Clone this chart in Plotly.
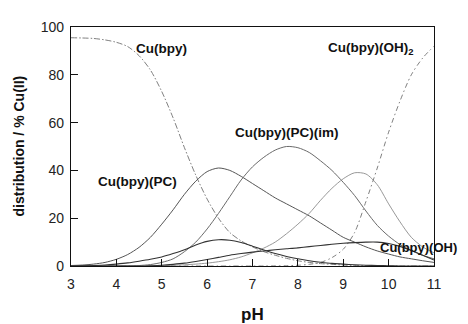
import plotly.graph_objects as go

pH = [3.0, 3.25, 3.5, 3.75, 4.0, 4.25, 4.5, 4.75, 5.0, 5.25, 5.5, 5.75, 6.0, 6.25, 6.5, 6.75,
      7.0, 7.25, 7.5, 7.75, 8.0, 8.25, 8.5, 8.75, 9.0, 9.25, 9.5, 9.75, 10.0, 10.25, 10.5, 10.75, 11.0]

cu_bpy = [95.5, 95.4, 95.2, 94.6, 93.6, 91.8, 88, 82, 73, 62, 49.5, 38, 28, 20, 14, 10.5,
          8, 6, 4.5, 3.2, 2.2, 1.5, 1, 0.7, 0.4, 0.2, 0.1, 0.05, 0, 0, 0, 0, 0]
cu_bpy_pc = [0.2, 0.4, 0.8, 1.5, 2.8, 4.8, 7.8, 12, 17.5, 23.5, 30, 35.5, 39.5, 41, 40, 37.5,
             34.5, 31.5, 28.5, 26, 23.5, 21, 18, 15, 12, 10, 8, 6.3, 5, 3.8, 3, 2.2, 1.5]
cu_bpy_pc_im = [0, 0, 0, 0, 0, 0, 0.2, 0.6, 1.5, 3, 6, 10, 15.5, 22, 29, 36,
                41.5, 45.5, 48.5, 50, 49.5, 47.5, 44, 40, 35, 29.5, 23, 17, 12.5, 9, 6.5, 4.5, 3]
cu_bpy_oh = [0, 0, 0, 0, 0, 0, 0, 0, 0.1, 0.3, 0.5, 0.8, 1.2, 1.8, 2.6, 3.8,
             5.5, 7.5, 10, 13.5, 17.5, 22, 27.5, 32.5, 36.5, 39, 38.5, 34, 26, 18.5, 12, 8, 5.5]
cu_bpy_oh2 = [0, 0, 0, 0, 0, 0, 0, 0, 0, 0, 0, 0, 0, 0, 0, 0,
              0, 0, 0.05, 0.1, 0.3, 0.7, 1.5, 3.5, 7, 14, 27, 41, 56, 69, 80, 87, 92]
minor_a = [0, 0.05, 0.2, 0.4, 0.8, 1.3, 2, 2.8, 3.8, 5.2, 6.8, 8.8, 10.3, 11, 10.8, 9.8,
           8.3, 6.7, 5.2, 4, 3, 2.2, 1.6, 1.1, 0.8, 0.5, 0.3, 0.2, 0.1, 0, 0, 0, 0]
minor_b = [0, 0, 0, 0, 0, 0, 0, 0.1, 0.3, 0.7, 1.2, 1.9, 2.7, 3.6, 4.5, 5.2,
           5.8, 6.3, 6.8, 7.2, 7.6, 8.1, 8.6, 9.1, 9.5, 9.8, 10, 10, 9.4, 8.2, 6.5, 4.5, 2.5]

x_ticks = [3, 4, 5, 6, 7, 8, 9, 10, 11]
y_ticks = [0, 20, 40, 60, 80, 100]

series = [
    (cu_bpy, "#808080", "6px,2px,1.5px,2px", 1.0),
    (cu_bpy_pc, "#555555", "solid", 1.0),
    (cu_bpy_pc_im, "#6a6a6a", "solid", 1.0),
    (cu_bpy_oh, "#8c8c8c", "solid", 0.9),
    (cu_bpy_oh2, "#808080", "5px,3px,1.5px,3px", 1.0),
    (minor_a, "#333333", "solid", 1.1),
    (minor_b, "#333333", "solid", 1.1),
]

FONT = "Liberation Sans, Arial, sans-serif"

fig = go.Figure()
for vals, col, dash, w in series:
    fig.add_trace(go.Scatter(x=pH, y=vals, mode="lines",
                             line=dict(color=col, width=w, dash=dash, shape="spline", smoothing=0.8),
                             showlegend=False, hoverinfo="skip"))

lab_font = dict(family=FONT, size=13.5, color="#111111")
labels = [
    (5.0, 90.9, "<b>Cu(bpy)</b>", 13.5),
    (9.61, 90.9, "<b>Cu(bpy)(OH)<sub>2</sub></b>", 13.5),
    (7.74, 56.0, "<b>Cu(bpy)(PC)(im)</b>", 13.5),
    (4.46, 35.3, "<b>Cu(bpy)(PC)</b>", 13.5),
    (10.66, 7.7, "<b>Cu(bpy)(OH)</b>", 13),
]
for x, y, t, s in labels:
    fig.add_annotation(x=x, y=y, text=t, showarrow=False,
                       font=dict(family=FONT, size=s, color="#111111"),
                       xanchor="center", yanchor="middle")

fig.add_annotation(xref="paper", yref="paper", x=-0.146, y=0.5, text="<b>distribution / % Cu(II)</b>",
                   textangle=-90, showarrow=False, xanchor="center", yanchor="middle",
                   font=dict(family=FONT, size=14, color="#111111"))
fig.add_annotation(xref="paper", yref="paper", x=0.5, y=-0.202, text="<b>pH</b>",
                   showarrow=False, xanchor="center", yanchor="middle",
                   font=dict(family=FONT, size=17, color="#111111"))

axis_font = dict(family=FONT, size=14, color="#222222")
fig.update_xaxes(range=[3, 11], tickvals=x_ticks, ticktext=[str(v) for v in x_ticks],
                 showline=True, linecolor="#111111", linewidth=1.2, mirror=True,
                 ticks="inside", ticklen=7, tickcolor="#111111", showgrid=False, zeroline=False,
                 tickfont=axis_font, ticklabelstandoff=5)
fig.update_yaxes(range=[0, 100], tickvals=y_ticks, ticktext=[str(v) for v in y_ticks],
                 showline=True, linecolor="#111111", linewidth=1.2, mirror=True,
                 ticks="inside", ticklen=7, tickcolor="#111111", showgrid=False, zeroline=False,
                 tickfont=axis_font, ticklabelstandoff=3)
fig.update_layout(width=468, height=316, margin=dict(l=63, r=42, t=11, b=58),
                  plot_bgcolor="white", paper_bgcolor="white")

fig.write_html("out.html")
